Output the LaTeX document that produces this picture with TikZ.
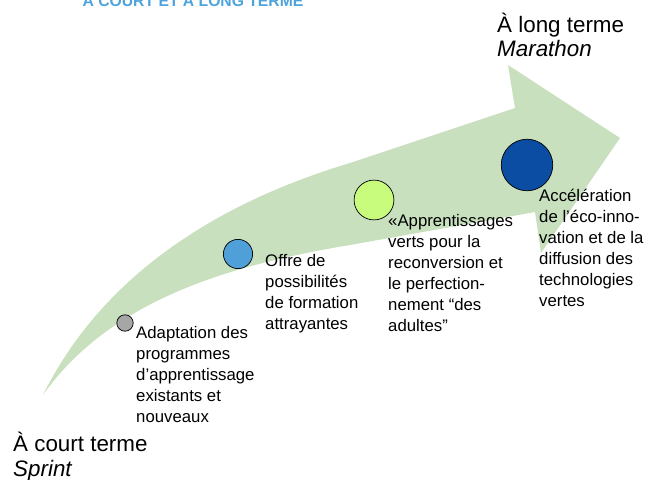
\documentclass[tikz,border=0pt]{standalone}
\usepackage{fontspec}
\setmainfont{Liberation Sans}
\usetikzlibrary{positioning}
\definecolor{arrowgreen}{RGB}{201,224,190}
\definecolor{titleblue}{RGB}{77,163,220}
\definecolor{dotgray}{RGB}{166,166,166}
\definecolor{dotblue}{RGB}{79,159,216}
\definecolor{dotlime}{RGB}{200,252,125}
\definecolor{dotnavy}{RGB}{10,77,162}

\begin{document}
\begin{tikzpicture}[x=0.03cm, y=-0.03cm,
    dot/.style={circle, draw=black, line width=0.6pt, inner sep=0pt},
    steptext/.style={anchor=base west, align=left, inner sep=0pt,
        font=\fontsize{14.3}{17.9}\selectfont},
    termtext/.style={anchor=base west, align=left, inner sep=0pt,
        font=\fontsize{19.1}{21.3}\selectfont}]
    \clip (0, 0) rectangle (645, 480);

    % the big bent arrow
    \fill[arrowgreen] (43, 395) .. controls (100, 280) and (210, 205) .. (350, 163)
        -- (515, 108) -- (508, 65) -- (620, 138) -- (541, 253) -- (535, 212)
        -- (350, 245) .. controls (230, 265) and (110, 300) .. (43, 395) -- cycle;

    % title (cut at the top)
    \node[anchor=base, inner sep=0pt, text=titleblue,
        font=\fontsize{13.4}{16}\selectfont\bfseries] (title) at (193, 7)
        {À COURT ET À LONG TERME};

    % steps
    \node[dot, fill=dotgray, minimum size=14] (adapt) at (125, 323) {};
    \node[dot, fill=dotblue, minimum size=25] (offre) at (238, 254) {};
    \node[dot, fill=dotlime, minimum size=34] (verts) at (374, 200) {};
    \node[dot, fill=dotnavy, minimum size=44] (eco) at (527, 165) {};

    % texts are placed by the baseline of their last line
    \node[steptext] (adapttext) at (136, 422)
        {Adaptation des\\programmes\\d’apprentissage\\existants et\\nouveaux};
    \node[steptext] (offretext) at (265, 329)
        {Offre de\\possibilités\\de formation\\attrayantes};
    \node[steptext] (vertstext) at (388, 331)
        {«Apprentissages\\verts pour la\\reconversion et\\le perfection-\\nement “des\\adultes”};
    \node[steptext] (ecotext) at (539, 306)
        {Accélération\\de l’éco-inno-\\vation et de la\\diffusion des\\technologies\\vertes};

    % ends
    \node[termtext] (long) at (497, 57) {À long terme\\\textit{Marathon}};
    \node[termtext] (court) at (13, 476) {À court terme\\\textit{Sprint}};
\end{tikzpicture}
\end{document}
